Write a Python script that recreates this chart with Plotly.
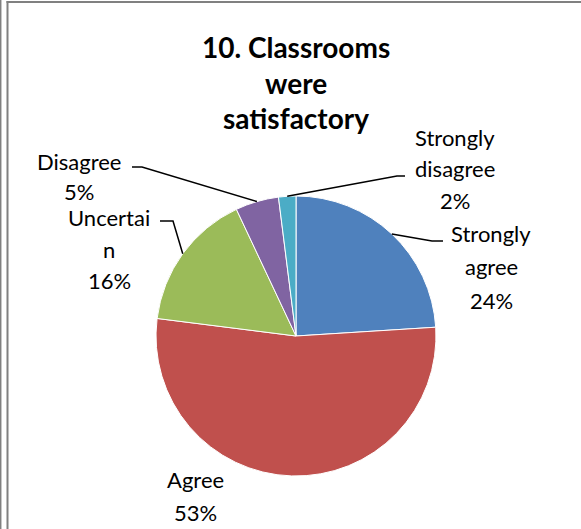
import math
import plotly.graph_objects as go

# ---- data ----
categories = ["Strongly agree", "Agree", "Uncertain", "Disagree", "Strongly disagree"]
values = [24, 53, 16, 5, 2]
label_lines = [["Strongly", "agree", "24%"],
               ["Agree", "53%"],
               ["Uncertai", "n", "16%"],
               ["Disagree", "5%"],
               ["Strongly", "disagree", "2%"]]
colors = ["#4F81BD", "#C0504D", "#9BBB59", "#8064A2", "#4BACC6"]
title_lines = ["10. Classrooms", "were", "satisfactory"]

# ---- layout (pixels) ----
W, H = 581, 529
CX, CY, R = 296, 336, 140
FONT = "Lato, Calibri, Carlito, sans-serif"

# label line centres (x, first y, line step) and leader elbows
label_pos = [(491, 233, 33.5), (195, 479, 33), (109, 218, 31), (79, 161, 30), (455, 137, 31.5)]
leaders = [[(432, 241), (443, 241)],
           None,
           [(173, 221), (160, 221)],
           [(142, 167), (132, 167)],
           [(397, 176), (405, 176)]]

def px(x):
    return x / W

def py(y):
    return 1 - y / H

fig = go.Figure(go.Pie(
    labels=categories, values=values, sort=False, direction="clockwise", rotation=0,
    marker=dict(colors=colors, line=dict(color="white", width=1)),
    textinfo="none", hoverinfo="skip", showlegend=False,
    domain=dict(x=[px(CX - R), px(CX + R)], y=[py(CY + R), py(CY - R)]),
))

annotations = []
shapes = []

# title
for i, t in enumerate(title_lines):
    annotations.append(dict(x=px(296), y=py(47 + i * 35.5), xref="paper", yref="paper",
                            text="<b>%s</b>" % t, showarrow=False, xanchor="center", yanchor="middle",
                            font=dict(family=FONT, size=28, color="black")))

total = sum(values)
cum = 0
for i, v in enumerate(values):
    mid = (cum + v / 2) / total * 2 * math.pi
    cum += v
    ex, ey = CX + R * math.sin(mid), CY - R * math.cos(mid)
    lx, ly0, step = label_pos[i]
    for j, t in enumerate(label_lines[i]):
        annotations.append(dict(x=px(lx), y=py(ly0 + j * step), xref="paper", yref="paper",
                                text=t, showarrow=False, xanchor="center", yanchor="middle",
                                borderpad=0,
                                font=dict(family=FONT, size=22, color="black")))
    if leaders[i]:
        pts = [(ex, ey)] + leaders[i]
        path = "M %f %f " % (px(pts[0][0]), py(pts[0][1])) + " ".join(
            "L %f %f" % (px(a), py(b)) for a, b in pts[1:])
        shapes.append(dict(type="path", path=path, xref="paper", yref="paper",
                           line=dict(color="black", width=1.5)))

# borders
gray = "#808080"
shapes.append(dict(type="line", xref="paper", yref="paper", x0=px(0.7), x1=px(0.7), y0=0, y1=1,
                   line=dict(color=gray, width=1.5)))
shapes.append(dict(type="line", xref="paper", yref="paper", x0=px(7.5), x1=px(7.5), y0=0, y1=py(1),
                   line=dict(color=gray, width=2)))
shapes.append(dict(type="line", xref="paper", yref="paper", x0=px(6.5), x1=1, y0=py(2), y1=py(2),
                   line=dict(color=gray, width=2)))

fig.update_layout(width=W, height=H, margin=dict(l=0, r=0, t=0, b=0),
                  paper_bgcolor="white", plot_bgcolor="white",
                  annotations=annotations, shapes=shapes)

fig.write_html("out.html", config={"displayModeBar": False},
               post_script="document.body.style.margin='0';")
